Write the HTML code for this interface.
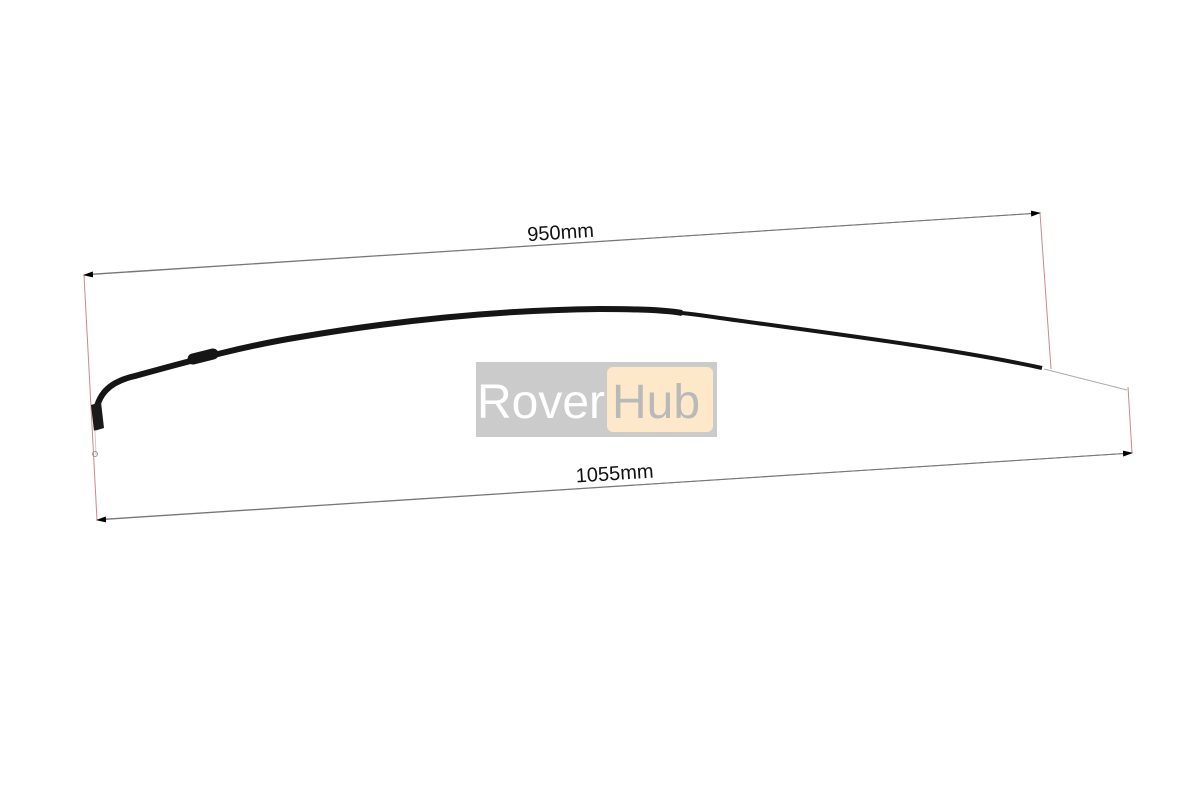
<!DOCTYPE html>
<html><head><style>
html,body{margin:0;padding:0;background:#fff;width:1194px;height:800px;overflow:hidden;font-family:"Liberation Sans",sans-serif}
</style></head><body>
<svg width="1194" height="800" viewBox="0 0 1194 800" xmlns="http://www.w3.org/2000/svg">
<defs>
<marker id="a" markerWidth="10" markerHeight="6" refX="9" refY="3" orient="auto" markerUnits="userSpaceOnUse"><path d="M0,0 L10,3 L0,6z" fill="#000"/></marker>
</defs>
<line x1="84" y1="275" x2="97" y2="520" stroke="#c88" stroke-width="1"/>
<line x1="1040" y1="213" x2="1051" y2="369" stroke="#c88" stroke-width="1"/>
<line x1="1128" y1="387" x2="1132" y2="453" stroke="#c88" stroke-width="1"/>
<line x1="93" y1="274" x2="1040" y2="213" stroke="#777" stroke-width="1" marker-end="url(#a)"/>
<line x1="1031" y1="213.6" x2="84" y2="275" stroke="#777" stroke-width="1" marker-end="url(#a)"/>
<line x1="106" y1="519" x2="1132" y2="453" stroke="#777" stroke-width="1" marker-end="url(#a)"/>
<line x1="1123" y1="453.6" x2="97" y2="520" stroke="#777" stroke-width="1" marker-end="url(#a)"/>
<text x="561" y="239" font-size="20" text-anchor="middle" fill="#111" transform="rotate(-3.7 561 239)">950mm</text>
<text x="615" y="480" font-size="20" text-anchor="middle" fill="#111" transform="rotate(-3.7 615 480)">1055mm</text>
<path d="M95,415 C98,395 108,382 135,376 C200,358 250,345 300,337 C400,320 500,310 600,309 C650,309 680,312 720,318 C820,332 950,348 1042,368" fill="none" stroke="#151515" stroke-width="4"/>
<path d="M95,415 C98,395 108,382 135,376 C200,358 250,345 300,337 C400,320 500,310 600,309 C640,309 665,310 682,313" fill="none" stroke="#151515" stroke-width="6"/>
<path d="M193,359 L213,354" stroke="#151515" stroke-width="11" stroke-linecap="round"/>
<path d="M91,405 L101,402 L104,428 L94,431z" fill="#1a1a1a"/>
<line x1="1044" y1="369" x2="1127" y2="390" stroke="#aaa" stroke-width="1"/>
<line x1="95" y1="430" x2="96" y2="455" stroke="#ccc" stroke-width="1"/>
<circle cx="95" cy="454" r="2.5" fill="none" stroke="#999"/>
<rect x="476" y="362" width="241" height="75" fill="#cbcbcb"/>
<rect x="607" y="367" width="106" height="65" rx="6" fill="#fde9c9"/>
<text x="477" y="418" font-size="48" fill="#fff">Rover</text>
<text x="612" y="418" font-size="48" fill="#b9b9b9">Hub</text>
</svg>
</body></html>
